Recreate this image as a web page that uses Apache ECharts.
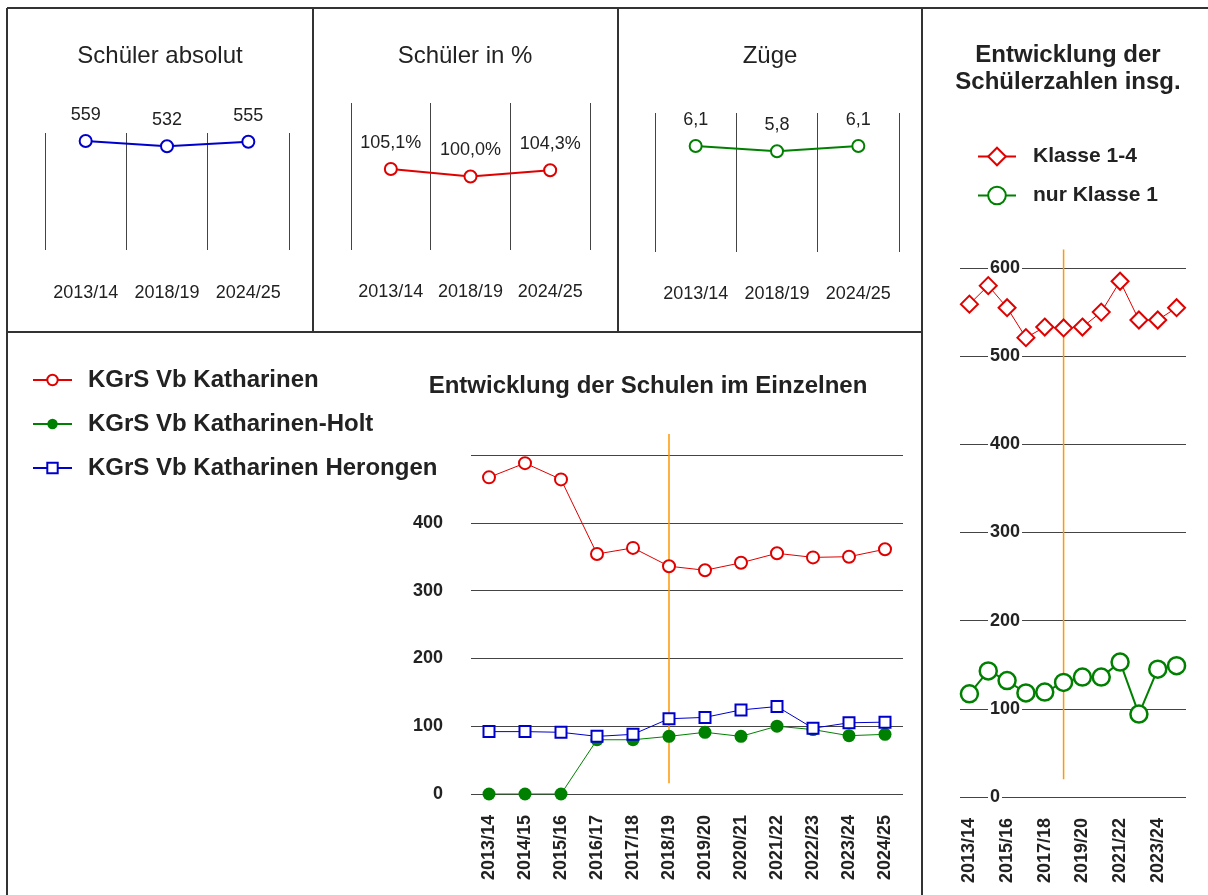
<!DOCTYPE html>
<html>
<head>
<meta charset="utf-8">
<script src="https://cdn.jsdelivr.net/npm/echarts@6/dist/echarts.min.js"></script>
<style>
  html, body { margin: 0; padding: 0; background: #fff; }
  #chart { width: 1208px; height: 895px; }
</style>
</head>
<body>
<div id="chart"></div>
<script>
// snapshot panels (top row)
const snapshotYears = ['2013/14', '2018/19', '2024/25'];
const pupilsAbsolute = [559, 532, 555];
const pupilsPercent = [105.1, 100.0, 104.3];
const streams = [6.1, 5.8, 6.1];

// per school (bottom chart)
const schoolYears = ['2013/14', '2014/15', '2015/16', '2016/17', '2017/18', '2018/19',
  '2019/20', '2020/21', '2021/22', '2022/23', '2023/24', '2024/25'];
const katharinen = [467, 488, 464, 354, 363, 336, 330, 341, 355, 349, 350, 361];
const katharinenHolt = [0, 0, 0, 80, 80, 85, 91, 85, 100, 95, 86, 88];
const katharinenHerongen = [92, 92, 91, 85, 88, 111, 113, 124, 129, 97, 105, 106];

// totals (right chart)
const grades1to4 = [559, 580, 555, 521, 533, 532, 533, 550, 585, 541, 541, 555];
const grade1Only = [117, 143, 132, 118, 119, 130, 136, 136, 153, 94, 145, 149];

// orange reference line at 2018/19
const markerYear = '2018/19';
const markerSpanSchools = [16, 531];
const markerSpanTotal = [20, 621];

const FONT = '"Liberation Sans", Arial, sans-serif';
const TEXT = '#222';
const GRID_LINE = '#444';
const RED = '#e00000';
const GREEN = '#008000';
const BLUE = '#0000cc';
const ORANGE = '#ff9900';

const comma = v => v.toFixed(1).replace('.', ',');

const chart = echarts.init(document.getElementById('chart'));

const frameLine = (x1, y1, x2, y2) => ({
  type: 'line',
  shape: { x1, y1, x2, y2 },
  style: { stroke: '#333', lineWidth: 2 },
  silent: true
});

const smallXAxis = (gridIndex, margin) => ({
  gridIndex,
  type: 'category',
  data: snapshotYears,
  axisLine: { show: false },
  axisTick: { show: false },
  splitLine: { show: true, interval: 0, lineStyle: { color: GRID_LINE, width: 1 } },
  axisLabel: { interval: 0, margin, fontSize: 18, color: TEXT, fontFamily: FONT }
});

const smallSeries = (idx, values, color, formatter) => ({
  type: 'line',
  xAxisIndex: idx,
  yAxisIndex: idx,
  data: values,
  symbol: 'circle',
  symbolSize: 12,
  itemStyle: { color: '#fff', borderColor: color, borderWidth: 2 },
  lineStyle: { color, width: 2 },
  label: {
    show: true,
    position: 'top',
    distance: 10,
    fontSize: 18,
    color: TEXT,
    fontFamily: FONT,
    formatter: p => formatter(p.value)
  }
});

const smallTitle = (text, left) => ({
  text, left, top: 44, textAlign: 'center', padding: 0,
  textStyle: { fontSize: 24, fontWeight: 'normal', color: TEXT, fontFamily: FONT }
});

const option = {
  animation: false,
  backgroundColor: '#fff',
  textStyle: { fontFamily: FONT },
  graphic: [
    frameLine(7, 8, 1208, 8),
    frameLine(7, 8, 7, 895),
    frameLine(313, 8, 313, 332),
    frameLine(618, 8, 618, 332),
    frameLine(922, 8, 922, 895),
    frameLine(7, 332, 922, 332)
  ],
  title: [
    smallTitle('Schüler absolut', 160),
    smallTitle('Schüler in %', 465),
    smallTitle('Züge', 770),
    { text: 'Entwicklung der\nSchülerzahlen insg.', left: 1068, top: 42, textAlign: 'center', padding: 0,
      textStyle: { fontSize: 24, fontWeight: 'bold', lineHeight: 27, color: TEXT, fontFamily: FONT } },
    { text: 'Entwicklung der Schulen im Einzelnen', left: 648, top: 374, textAlign: 'center', padding: 0,
      textStyle: { fontSize: 24, fontWeight: 'bold', color: TEXT, fontFamily: FONT } }
  ],
  legend: [
    {
      data: ['KGrS Vb Katharinen', 'KGrS Vb Katharinen-Holt', 'KGrS Vb Katharinen Herongen'],
      orient: 'vertical',
      left: 32,
      top: 368,
      itemWidth: 39,
      itemHeight: 13,
      itemGap: 20,
      padding: 0,
      selectedMode: false,
      textStyle: { fontSize: 24, fontWeight: 'bold', color: TEXT, fontFamily: FONT, padding: [0, 0, 0, 11] }
    },
    {
      data: ['Klasse 1-4', 'nur Klasse 1'],
      orient: 'vertical',
      left: 977,
      top: 146,
      itemWidth: 38,
      itemHeight: 22,
      itemGap: 18,
      padding: 0,
      selectedMode: false,
      textStyle: { fontSize: 21, fontWeight: 'bold', color: TEXT, fontFamily: FONT, padding: [0, 0, 0, 12] }
    }
  ],
  grid: [
    { left: 45, top: 133, width: 244, height: 117 },
    { left: 351, top: 103, width: 239, height: 147 },
    { left: 655, top: 113, width: 244, height: 139 },
    { left: 471, top: 455, width: 432, height: 339 },
    { left: 960, top: 268, width: 226, height: 529 }
  ],
  xAxis: [
    smallXAxis(0, 34),
    smallXAxis(1, 33),
    smallXAxis(2, 33),
    {
      gridIndex: 3,
      type: 'category',
      data: schoolYears,
      axisLine: { show: false },
      axisTick: { show: false },
      axisLabel: { interval: 0, rotate: 90, margin: 21, fontSize: 18, fontWeight: 'bold', color: TEXT, fontFamily: FONT }
    },
    {
      gridIndex: 4,
      type: 'category',
      data: schoolYears,
      axisLine: { show: false },
      axisTick: { show: false },
      axisLabel: { interval: 1, rotate: 90, margin: 21, fontSize: 18, fontWeight: 'bold', color: TEXT, fontFamily: FONT }
    }
  ],
  yAxis: [
    { gridIndex: 0, type: 'value', min: 0, max: 600, show: false },
    { gridIndex: 1, type: 'value', min: 50, max: 150, show: false },
    { gridIndex: 2, type: 'value', min: 0, max: 8, show: false },
    {
      gridIndex: 3,
      type: 'value',
      min: 0,
      max: 500,
      interval: 100,
      axisLine: { show: false },
      axisTick: { show: false },
      splitLine: { lineStyle: { color: GRID_LINE, width: 1 } },
      axisLabel: { showMaxLabel: false, margin: 28, fontSize: 18, fontWeight: 'bold', color: TEXT, fontFamily: FONT }
    },
    {
      gridIndex: 4,
      type: 'value',
      min: 0,
      max: 600,
      interval: 100,
      axisLine: { show: false },
      axisTick: { show: false },
      splitLine: { lineStyle: { color: GRID_LINE, width: 1 } },
      axisLabel: {
        inside: true,
        margin: 28,
        fontSize: 18,
        fontWeight: 'bold',
        color: TEXT,
        fontFamily: FONT,
        backgroundColor: '#fff',
        padding: [0, 2]
      }
    }
  ],
  series: [
    smallSeries(0, pupilsAbsolute, BLUE, v => String(v)),
    smallSeries(1, pupilsPercent, RED, v => comma(v) + '%'),
    smallSeries(2, streams, GREEN, v => comma(v)),
    {
      name: 'KGrS Vb Katharinen',
      type: 'line',
      xAxisIndex: 3,
      yAxisIndex: 3,
      data: katharinen,
      symbol: 'circle',
      symbolSize: 12,
      showAllSymbol: true,
      itemStyle: { color: '#fff', borderColor: RED, borderWidth: 2 },
      lineStyle: { color: RED, width: 1 }
    },
    {
      name: 'KGrS Vb Katharinen-Holt',
      type: 'line',
      xAxisIndex: 3,
      yAxisIndex: 3,
      data: katharinenHolt,
      symbol: 'circle',
      symbolSize: 13,
      showAllSymbol: true,
      itemStyle: { color: GREEN, borderWidth: 0 },
      lineStyle: { color: GREEN, width: 1 }
    },
    {
      name: 'KGrS Vb Katharinen Herongen',
      type: 'line',
      xAxisIndex: 3,
      yAxisIndex: 3,
      data: katharinenHerongen,
      symbol: 'rect',
      symbolSize: 11,
      showAllSymbol: true,
      itemStyle: { color: '#fff', borderColor: BLUE, borderWidth: 2 },
      lineStyle: { color: BLUE, width: 1 }
    },
    {
      type: 'line',
      xAxisIndex: 3,
      yAxisIndex: 3,
      data: markerSpanSchools.map(v => [markerYear, v]),
      symbol: 'none',
      clip: false,
      silent: true,
      lineStyle: { color: ORANGE, width: 1.5 }
    },
    {
      name: 'Klasse 1-4',
      type: 'line',
      xAxisIndex: 4,
      yAxisIndex: 4,
      data: grades1to4,
      symbol: 'diamond',
      symbolSize: 17,
      showAllSymbol: true,
      itemStyle: { color: '#fff', borderColor: RED, borderWidth: 2 },
      lineStyle: { color: RED, width: 1 }
    },
    {
      name: 'nur Klasse 1',
      type: 'line',
      xAxisIndex: 4,
      yAxisIndex: 4,
      data: grade1Only,
      symbol: 'circle',
      symbolSize: 17,
      showAllSymbol: true,
      itemStyle: { color: '#fff', borderColor: GREEN, borderWidth: 2.5 },
      lineStyle: { color: GREEN, width: 2 }
    },
    {
      type: 'line',
      xAxisIndex: 4,
      yAxisIndex: 4,
      data: markerSpanTotal.map(v => [markerYear, v]),
      symbol: 'none',
      clip: false,
      silent: true,
      lineStyle: { color: ORANGE, width: 1.5 }
    }
  ]
};

chart.setOption(option);
</script>
</body>
</html>
